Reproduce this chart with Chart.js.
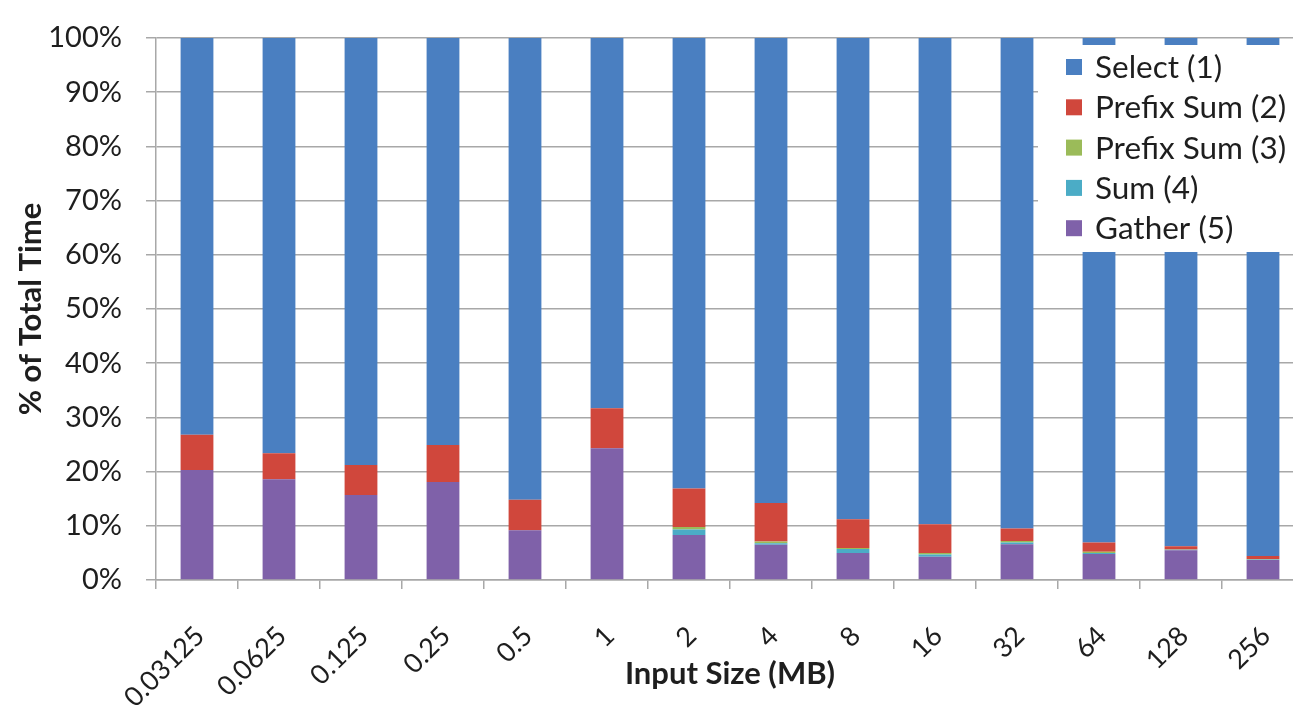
<!DOCTYPE html>
<html>
<head>
<meta charset="utf-8">
<script src="https://cdn.jsdelivr.net/npm/chart.js@4.4.0/dist/chart.umd.min.js"></script>
<style>
  html, body { margin: 0; padding: 0; background: #ffffff; overflow: hidden; }
  #wrap { width: 1304px; height: 708px; }
</style>
</head>
<body>
<div id="wrap"><canvas id="chart" width="1304" height="708"></canvas></div>
<script>
// Input sizes in MB (x axis categories)
const categories = ['0.03125', '0.0625', '0.125', '0.25', '0.5', '1', '2', '4', '8', '16', '32', '64', '128', '256'];

// Share of total time per kernel, in percent (stacked bottom to top)
const gather  = [20.3, 18.6, 15.7, 18.1, 9.2, 24.3, 8.3, 6.5, 5.0, 4.3, 6.6, 4.8, 5.5, 3.7];
const sum4    = [0, 0, 0, 0, 0, 0, 1.0, 0.3, 0.7, 0.4, 0.3, 0.2, 0.1, 0.1];
const prefix3 = [0, 0, 0, 0, 0, 0, 0.5, 0.3, 0.2, 0.3, 0.3, 0.2, 0.05, 0.05];
const prefix2 = [6.5, 4.8, 5.5, 6.8, 5.6, 7.4, 7.1, 7.1, 5.3, 5.3, 2.3, 1.7, 0.6, 0.6];
const select  = [73.2, 76.6, 78.8, 75.1, 85.2, 68.3, 83.1, 85.8, 88.8, 89.7, 90.5, 93.1, 93.75, 95.55];

// Y axis tick values
const yTicks = [0, 10, 20, 30, 40, 50, 60, 70, 80, 90, 100];

const textColor = '#1e1e1e';
const gridColor = '#a8a8a8';
const tickFont = { family: 'Lato', size: 29 };
const xTickFont = { family: 'Lato', size: 27 };
const titleFont = { family: 'Lato', size: 31, weight: 'bold' };

// Boxed legend drawn on a white panel in the upper right of the plot
const boxLegend = {
  id: 'boxLegend',
  afterDraw(chart) {
    const ctx = chart.ctx;
    const area = chart.chartArea;
    const left = 1038, top = 45, bottom = 252;
    ctx.save();
    ctx.fillStyle = '#ffffff';
    ctx.fillRect(left, top, area.right - left + 2, bottom - top);
    ctx.font = '31.5px Lato';
    ctx.textBaseline = 'middle';
    ctx.textAlign = 'left';
    const items = chart.data.datasets.slice().reverse();
    items.forEach((ds, i) => {
      const y = 67 + i * 40.3;
      ctx.fillStyle = ds.backgroundColor;
      ctx.fillRect(1066, y - 8, 16, 16);
      ctx.fillStyle = textColor;
      ctx.fillText(ds.label, 1095, y + 1);
    });
    ctx.restore();
  }
};

new Chart(document.getElementById('chart'), {
  type: 'bar',
  data: {
    labels: categories,
    datasets: [
      { label: 'Gather (5)',      data: gather,  backgroundColor: '#7f61a9' },
      { label: 'Sum (4)',         data: sum4,    backgroundColor: '#4bacc6' },
      { label: 'Prefix Sum (3)',  data: prefix3, backgroundColor: '#9bbb59' },
      { label: 'Prefix Sum (2)',  data: prefix2, backgroundColor: '#d0473c' },
      { label: 'Select (1)',      data: select,  backgroundColor: '#4a7fc1' }
    ]
  },
  options: {
    responsive: false,
    animation: false,
    categoryPercentage: 1.0,
    barPercentage: 0.4,
    borderWidth: 0,
    layout: { padding: { top: 38, right: 0, bottom: 0, left: 0 } },
    plugins: {
      legend: { display: false },
      tooltip: { enabled: false }
    },
    scales: {
      x: {
        stacked: true,
        grid: {
          offset: true,
          drawOnChartArea: false,
          drawTicks: true,
          tickLength: 9,
          color: gridColor,
          lineWidth: 1.5
        },
        border: { color: gridColor, width: 1.5 },
        ticks: {
          autoSkip: false,
          minRotation: 45,
          maxRotation: 45,
          font: xTickFont,
          color: textColor,
          padding: 31,
          labelOffset: 3
        },
        title: {
          display: true,
          text: 'Input Size (MB)',
          font: titleFont,
          color: textColor,
          padding: { top: 0, bottom: 15 }
        },
        afterFit(scale) {
          scale.height = 128;
          scale.paddingLeft = 0;
          scale.paddingRight = 0;
        }
      },
      y: {
        stacked: true,
        min: 0,
        max: 100,
        afterBuildTicks(scale) { scale.ticks = yTicks.map(v => ({ value: v })); },
        ticks: {
          font: tickFont,
          color: textColor,
          padding: 24,
          callback: v => v + '%'
        },
        grid: {
          color: gridColor,
          lineWidth: 1.5,
          tickLength: 10
        },
        border: { color: gridColor, width: 1.5 },
        title: {
          display: true,
          text: '% of Total Time',
          font: titleFont,
          color: textColor,
          padding: { top: 12, bottom: 0 }
        },
        afterFit(scale) {
          scale.width = 156;
          scale.paddingTop = 0;
          scale.paddingBottom = 0;
        }
      }
    }
  },
  plugins: [boxLegend]
});
</script>
</body>
</html>
